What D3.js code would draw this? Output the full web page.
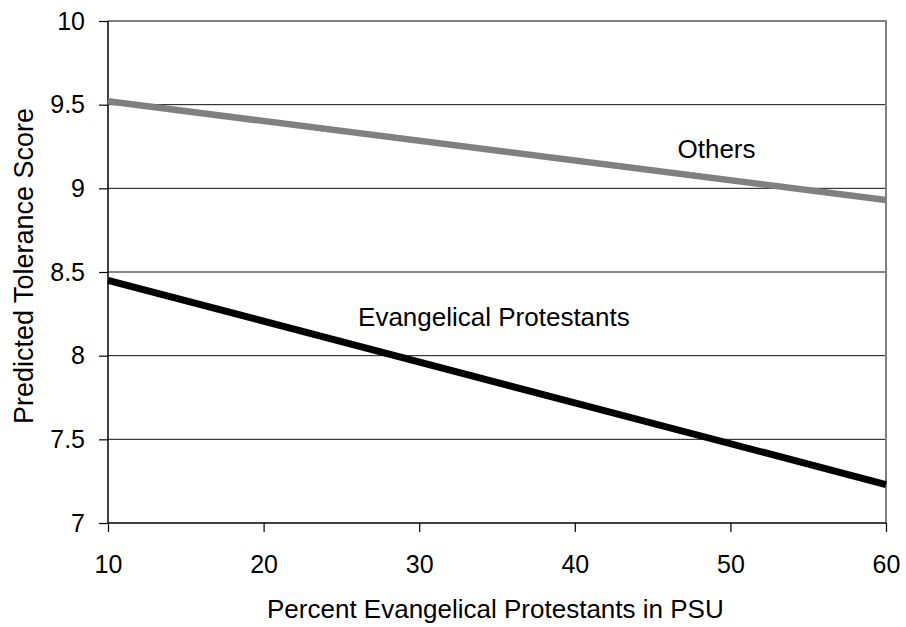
<!DOCTYPE html>
<html>
<head>
<meta charset="utf-8">
<script src="https://cdn.jsdelivr.net/npm/d3@7"></script>
<style>
  body { margin: 0; background: #fff; }
  svg text { font-family: "Liberation Sans", Arial, sans-serif; fill: #000; }
</style>
</head>
<body>
<svg id="chart"></svg>
<script>
// Data (straight lines, two end points each)
const xValues = [10, 60];
const othersValues = [9.52, 8.93];
const evangelicalValues = [8.45, 7.23];
const xTicks = [10, 20, 30, 40, 50, 60];
const yTicks = [7, 7.5, 8, 8.5, 9, 9.5, 10];

const margin = { top: 21, right: 20, bottom: 104, left: 108 };
const width = 906 - margin.left - margin.right;
const height = 627 - margin.top - margin.bottom;

const svg = d3.select("#chart")
    .attr("width", 906)
    .attr("height", 627);

const g = svg.append("g")
    .attr("transform", `translate(${margin.left},${margin.top})`);

const x = d3.scaleLinear().domain([10, 60]).range([0, width]);
const y = d3.scaleLinear().domain([7, 10]).range([height, 0]);

// Gridlines
g.selectAll(".grid")
    .data(yTicks.filter(d => d > 7 && d < 10))
    .enter()
    .append("line")
    .attr("x1", 0)
    .attr("x2", width)
    .attr("y1", d => y(d))
    .attr("y2", d => y(d))
    .attr("stroke", "#111")
    .attr("stroke-width", 1);

// Plot frame: gray top and right
g.append("path")
    .attr("d", `M0,${y(10)}H${width}V${height}`)
    .attr("fill", "none")
    .attr("stroke", "#808080")
    .attr("stroke-width", 2);

// Axes
const xAxis = g.append("g")
    .attr("transform", `translate(0,${height})`)
    .call(d3.axisBottom(x).tickValues(xTicks).tickSize(9).tickPadding(23).tickFormat(d3.format("d")));

const yAxis = g.append("g")
    .call(d3.axisLeft(y).tickValues(yTicks).tickSize(9).tickPadding(14).tickFormat(d => d));

[xAxis, yAxis].forEach(a => {
    a.attr("font-family", null).attr("font-size", null);
    a.select(".domain").attr("stroke", "#000").attr("stroke-width", 1.5);
    a.selectAll(".tick line").attr("stroke", "#000").attr("stroke-width", 1.2);
    a.selectAll(".tick text").style("font-size", "25px");
});
yAxis.select(".domain").attr("d", `M0,0V${height}`);
xAxis.select(".domain").attr("d", `M0,0H${width}`);

// Lines
const line = d3.line()
    .x((d, i) => x(xValues[i]))
    .y(d => y(d));

g.append("path")
    .datum(othersValues)
    .attr("d", line)
    .attr("fill", "none")
    .attr("stroke", "#808080")
    .attr("stroke-width", 6.5);

g.append("path")
    .datum(evangelicalValues)
    .attr("d", line)
    .attr("fill", "none")
    .attr("stroke", "#000")
    .attr("stroke-width", 7);

// Line labels
g.append("text")
    .attr("x", x(46.6))
    .attr("y", y(9.18))
    .style("font-size", "26px")
    .text("Others");

g.append("text")
    .attr("x", x(26.07))
    .attr("y", y(8.177))
    .style("font-size", "26px")
    .text("Evangelical Protestants");

// Axis titles
svg.append("text")
    .attr("x", 267)
    .attr("y", 618)
    .style("font-size", "26px")
    .text("Percent Evangelical Protestants in PSU");

svg.append("text")
    .attr("transform", "rotate(-90)")
    .attr("x", -266)
    .attr("y", 33)
    .style("font-size", "27px")
    .style("text-anchor", "middle")
    .text("Predicted Tolerance Score");
</script>
</body>
</html>
